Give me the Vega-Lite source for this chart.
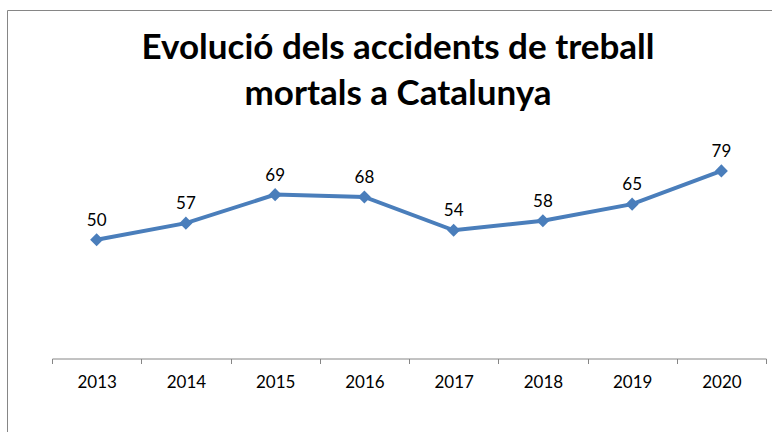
{
  "$schema": "https://vega.github.io/schema/vega-lite/v6.json",
  "autosize": "none",
  "width": 765,
  "height": 430,
  "padding": {"left": 7, "top": 10, "right": 0, "bottom": 0},
  "background": "white",
  "config": {
    "view": {"stroke": "#868686", "strokeWidth": 1},
    "font": "Lato"
  },
  "title": {
    "text": ["Evolució dels accidents de treball", "mortals a Catalunya"],
    "font": "Lato",
    "fontSize": 35,
    "fontWeight": "bold",
    "color": "black",
    "anchor": "middle",
    "baseline": "alphabetic",
    "lineHeight": 46,
    "offset": -130,
    "dx": 8.5
  },
  "data": {
    "values": [
      {"year": "2013", "value": 50},
      {"year": "2014", "value": 57},
      {"year": "2015", "value": 69},
      {"year": "2016", "value": 68},
      {"year": "2017", "value": 54},
      {"year": "2018", "value": 58},
      {"year": "2019", "value": 65},
      {"year": "2020", "value": 79}
    ]
  },
  "encoding": {
    "x": {
      "field": "year",
      "type": "ordinal",
      "bandPosition": 0.5,
      "scale": {"type": "band", "range": [45, 759], "paddingInner": 0, "paddingOuter": 0},
      "axis": {
        "title": null,
        "offset": -81.5,
        "tickBand": "extent",
        "domainColor": "#868686",
        "tickColor": "#868686",
        "tickSize": 5,
        "labelAngle": 0,
        "labelFont": "Lato",
        "labelFontSize": 17,
        "labelColor": "black",
        "labelPadding": 11,
        "grid": false
      }
    },
    "y": {
      "field": "value",
      "type": "quantitative",
      "scale": {"domain": [0, 100], "range": [348.5, 111], "nice": false, "zero": true},
      "axis": null
    }
  },
  "layer": [
    {
      "mark": {"type": "line", "color": "#4A7EBB", "strokeWidth": 4}
    },
    {
      "mark": {"type": "point", "shape": "diamond", "filled": true, "size": 170, "color": "#4A7EBB", "opacity": 1}
    },
    {
      "mark": {"type": "text", "font": "Lato", "fontSize": 17, "color": "black", "baseline": "alphabetic", "dy": -14},
      "encoding": {"text": {"field": "value", "type": "quantitative"}}
    }
  ]
}
